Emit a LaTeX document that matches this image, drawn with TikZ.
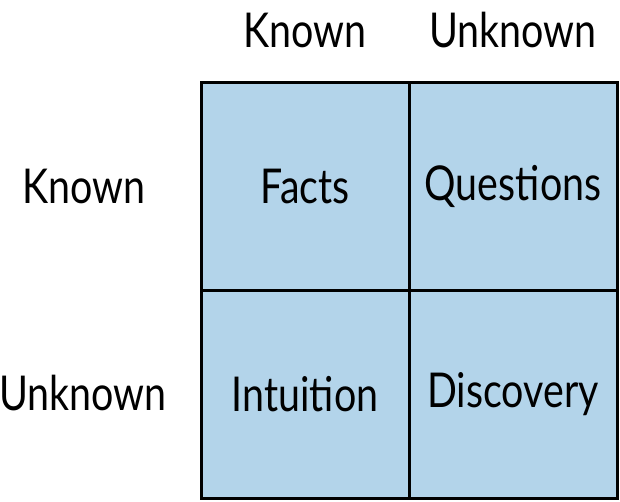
\documentclass[tikz,border=0pt]{standalone}
\usepackage{fontspec}
\setmainfont[FakeStretch=0.82]{Lato}
\usetikzlibrary{positioning}
\definecolor{cellblue}{HTML}{B3D4EA}
\tikzset{
 cell/.style={draw=black,line width=3pt,fill=cellblue,minimum size=208pt,inner sep=0pt,font=\fontsize{48}{54}\selectfont},
 lbl/.style={inner sep=0pt,font=\fontsize{48}{54}\selectfont}
}
\begin{document}
\begin{tikzpicture}[x=1pt,y=-1pt,node distance=208pt,on grid]
 \useasboundingbox (0,0) rectangle (620,501);
 \node[cell] (facts) at (305,186) {Facts};
 \node[cell] (questions) [right=of facts] {Questions};
 \node[cell] (intuition) [below=of facts] {Intuition};
 \node[cell] (discovery) [below=of questions] {Discovery};
 % axis labels
 \node[lbl] (colknown) at (305,30) {Known};
 \node[lbl] (colunknown) at (513,30) {Unknown};
 \node[lbl] (rowknown) at (84,186) {Known};
 \node[lbl] (rowunknown) at (83,393) {Unknown};
\end{tikzpicture}
\end{document}
